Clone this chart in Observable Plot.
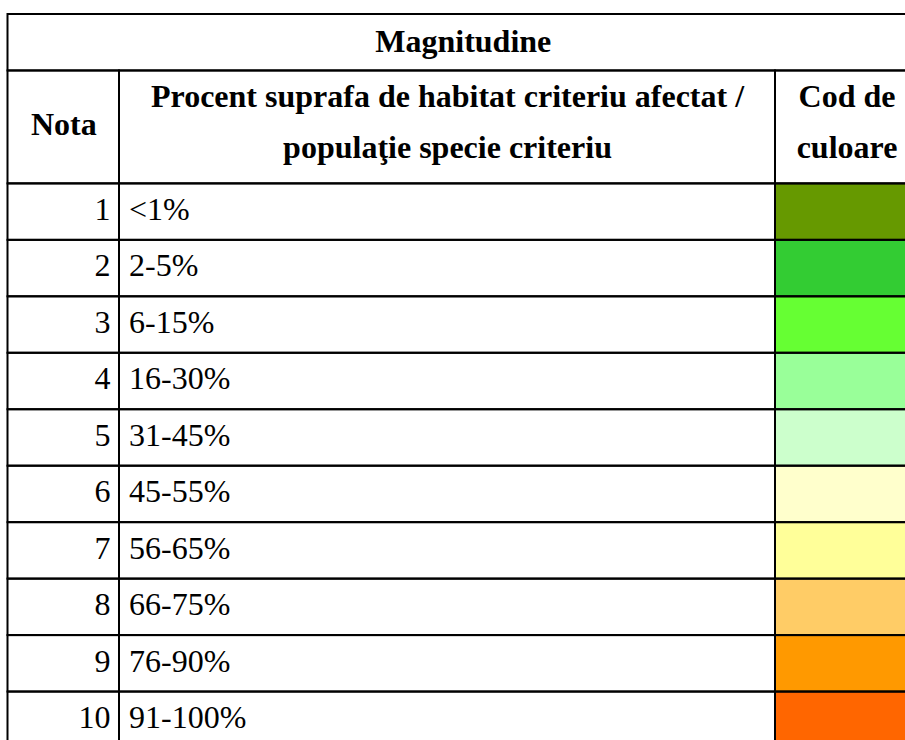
<!DOCTYPE html>
<html>
<head>
<meta charset="utf-8">
<script src="https://cdn.jsdelivr.net/npm/d3@7"></script>
<script src="https://cdn.jsdelivr.net/npm/@observablehq/plot@0.6"></script>
<style>
  html, body { margin: 0; padding: 0; background: #fff; overflow: hidden; }
  #chart svg { overflow: hidden; }
</style>
</head>
<body>
<div id="chart"></div>
<script>
// ---- data ----
const tableTitle = "Magnitudine";
const headerLabels = ["Nota", "Procent suprafa de habitat criteriu afectat /\npopulaţie specie criteriu", "Cod de\nculoare"];
const notes = [1, 2, 3, 4, 5, 6, 7, 8, 9, 10];
const ranges = ["<1%", "2-5%", "6-15%", "16-30%", "31-45%", "45-55%", "56-65%", "66-75%", "76-90%", "91-100%"];
const colorCodes = ["#669900", "#33CC33", "#66FF33", "#99FF99", "#CCFFCC", "#FFFFCC", "#FFFF99", "#FFCC66", "#FF9900", "#FF6600"];

// ---- layout (table units) ----
const colEdges = [0, 111.5, 767.5, 910.5];   // column boundaries
const titleRows = 1, headerRows = 2;          // row heights in row units
const firstDataRow = titleRows + headerRows;
const totalRows = firstDataRow + notes.length;

// ---- build cells ----
const cells = [];
cells.push({x1: colEdges[0], x2: colEdges[3], y1: 0, y2: titleRows, fill: "white"});
for (let c = 0; c < 3; c++) {
  cells.push({x1: colEdges[c], x2: colEdges[c + 1], y1: titleRows, y2: firstDataRow, fill: "white"});
}
notes.forEach((n, i) => {
  for (let c = 0; c < 3; c++) {
    cells.push({
      x1: colEdges[c], x2: colEdges[c + 1],
      y1: firstDataRow + i, y2: firstDataRow + i + 1,
      fill: c === 2 ? colorCodes[i] : "white"
    });
  }
});

const centers = [0, 1, 2].map(c => (colEdges[c] + colEdges[c + 1]) / 2);
const rows = notes.map((n, i) => ({nota: String(n), range: ranges[i], y: firstDataRow + i}));

const font = "'Liberation Serif', 'Times New Roman', serif";
const fs = 32;
const shift = 7;

const chart = Plot.plot({
  width: 905,
  height: 740,
  margin: 0,
  x: {domain: [colEdges[0], colEdges[3]], range: [7.5, 918], axis: null},
  y: {domain: [0, totalRows], range: [14, 748], axis: null},
  style: {background: "white", fontFamily: font},
  marks: [
    Plot.rect(cells, {x1: "x1", x2: "x2", y1: "y1", y2: "y2", fill: d => d.fill}),
    Plot.rect(cells, {x1: "x1", x2: "x2", y1: "y1", y2: "y2", fill: "none", stroke: "black", strokeWidth: 2}),
    // title
    Plot.text([tableTitle], {x: [ (colEdges[0] + colEdges[3]) / 2 ], y: [0], text: d => d, lineAnchor: "bottom", dy: 30 + shift,
      fontFamily: font, fontSize: fs, fontWeight: "bold", fill: "black", textAnchor: "middle"}),
    // header: Nota
    Plot.text([headerLabels[0]], {x: [centers[0]], y: [titleRows], text: d => d, lineAnchor: "bottom", dy: 57.5 + shift,
      fontFamily: font, fontSize: fs, fontWeight: "bold", fill: "black", textAnchor: "middle"}),
    // header: two-line labels
    Plot.text([headerLabels[1], headerLabels[2]], {x: [centers[1], centers[2]], y: [titleRows, titleRows], text: d => d,
      lineAnchor: "bottom", lineHeight: 1.6, dy: 80.5 + shift,
      fontFamily: font, fontSize: fs, fontWeight: "bold", fill: "black", textAnchor: "middle"}),
    // body: nota
    Plot.text(rows, {x: () => colEdges[1], y: "y", text: "nota", lineAnchor: "bottom", dy: 29 + shift, dx: -9,
      textAnchor: "end", fontFamily: font, fontSize: fs, fill: "black"}),
    // body: range
    Plot.text(rows, {x: () => colEdges[1], y: "y", text: "range", lineAnchor: "bottom", dy: 29 + shift, dx: 9.5,
      textAnchor: "start", fontFamily: font, fontSize: fs, fill: "black"})
  ]
});
document.getElementById("chart").appendChild(chart);
</script>
</body>
</html>
